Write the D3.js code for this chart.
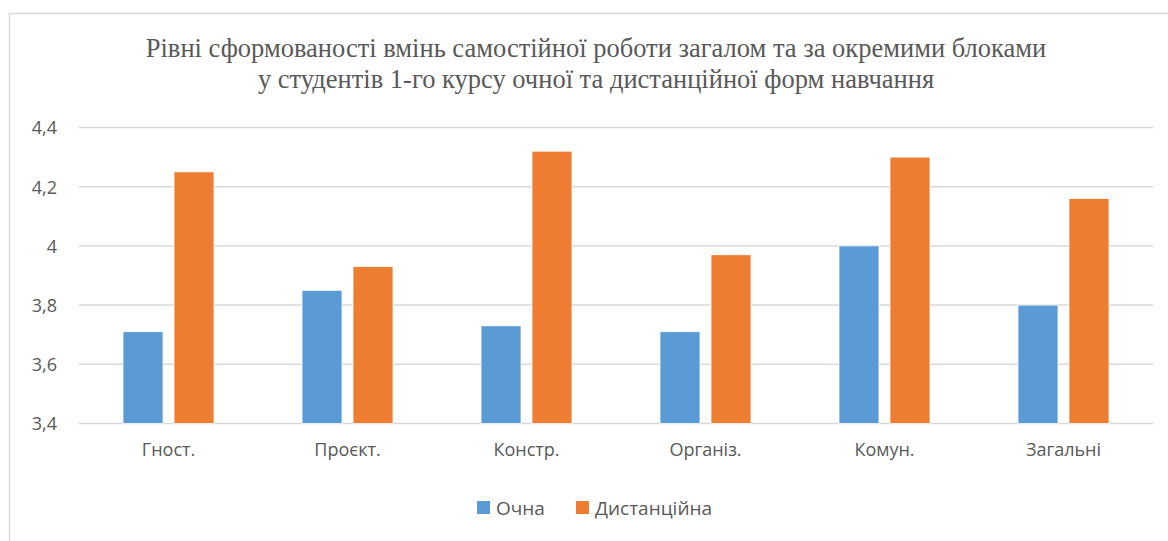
<!DOCTYPE html>
<html lang="uk">

<head>
    <meta charset="utf-8">
    <script src='https://d3js.org/d3.v7.min.js'></script>
</head>

<body style="margin:0; background:#fff;">

    <style>
        svg text {
            fill: #595959;
            font-family: "Open Sans", "Noto Sans", sans-serif;
        }
        svg .title {
            font-family: "Liberation Serif", "DejaVu Serif", serif;
            font-size: 26.5px;
        }
    </style>
    <script>

        // values
        const categories = ["Гност.", "Проєкт.", "Констр.", "Організ.", "Комун.", "Загальні"];
        const seriesNames = ["Очна", "Дистанційна"];
        const ochna = [3.71, 3.85, 3.73, 3.71, 4.0, 3.8];
        const dystantsiina = [4.25, 3.93, 4.32, 3.97, 4.3, 4.16];
        const yTicks = [3.4, 3.6, 3.8, 4.0, 4.2, 4.4];
        const titleLines = [
            "Рівні сформованості вмінь самостійної роботи загалом та за окремими блоками",
            "у студентів 1-го курсу очної та дистанційної форм навчання"
        ];
        const colors = ["#5B9BD5", "#ED7D31"];

        var width = 1168, height = 541;
        var plot = { left: 79, right: 1153, top: 127.5, bottom: 423.5 };

        var svg = d3.select("body")
            .append("svg")
            .attr("width", width)
            .attr("height", height);

        // chart frame
        svg.append("rect")
            .attr("x", 9.5)
            .attr("y", 13.5)
            .attr("width", 1174)
            .attr("height", 600)
            .attr("fill", "none")
            .attr("stroke", "#d9d9d9")
            .attr("stroke-width", 1.5);

        svg.selectAll("text.title")
            .data(titleLines)
            .enter()
            .append("text")
            .attr("class", "title")
            .attr("x", 596)
            .attr("y", function(d, i) { return 57 + i * 31; })
            .attr("text-anchor", "middle")
            .text(function(d) { return d; });

        var y = d3.scaleLinear()
            .domain([3.4, 4.4])
            .range([plot.bottom, plot.top]);

        var x0 = d3.scaleBand()
            .domain(categories)
            .range([plot.left, plot.right])
            .padding(0);

        var x1 = d3.scaleBand()
            .domain(seriesNames)
            .range([0, x0.bandwidth()])
            .paddingInner(0.216)
            .paddingOuter(0.863);

        // gridlines
        svg.append("g")
            .selectAll("line")
            .data(yTicks)
            .enter()
            .append("line")
            .attr("x1", plot.left)
            .attr("x2", plot.right)
            .attr("y1", function(d) { return y(d); })
            .attr("y2", function(d) { return y(d); })
            .attr("stroke", "#d9d9d9")
            .attr("stroke-width", 1.5);

        // y axis labels
        var yAxis = d3.axisLeft(y)
            .tickValues(yTicks)
            .tickSize(0)
            .tickPadding(0)
            .tickFormat(function(d) { return d3.format("")(+d.toFixed(1)).replace(".", ","); });

        var ya = svg.append("g")
            .attr("transform", "translate(57,0)")
            .call(yAxis);
        ya.select(".domain").remove();
        ya.selectAll("text")
            .attr("font-size", 18)
            .attr("font-family", null)
            .attr("dy", "0.36em");

        // bars
        var groups = svg.selectAll("g.cat")
            .data(categories)
            .enter()
            .append("g")
            .attr("class", "cat")
            .attr("transform", function(d) { return "translate(" + x0(d) + ",0)"; });

        groups.selectAll("rect")
            .data(function(d, i) {
                return [
                    { s: seriesNames[0], v: ochna[i], c: colors[0] },
                    { s: seriesNames[1], v: dystantsiina[i], c: colors[1] }
                ];
            })
            .enter()
            .append("rect")
            .attr("x", function(d) { return x1(d.s); })
            .attr("width", x1.bandwidth())
            .attr("y", function(d) { return y(d.v); })
            .attr("height", function(d) { return y(3.4) - y(d.v); })
            .attr("fill", function(d) { return d.c; })
            .attr("stroke", "#fff")
            .attr("stroke-width", 0.75);

        // category labels
        var xAxis = d3.axisBottom(x0)
            .tickSize(0)
            .tickPadding(0);
        var xa = svg.append("g")
            .attr("transform", "translate(0," + (plot.bottom + 26) + ")")
            .call(xAxis);
        xa.select(".domain").remove();
        xa.selectAll("text")
            .attr("font-size", 18)
            .attr("font-family", null)
            .attr("dy", "0.36em");

        // legend
        var legendX = [477, 576];
        var legend = svg.selectAll("g.legend")
            .data(seriesNames)
            .enter()
            .append("g")
            .attr("class", "legend")
            .attr("transform", function(d, i) { return "translate(" + legendX[i] + ",501)"; });
        legend.append("rect")
            .attr("width", 13)
            .attr("height", 13)
            .attr("fill", function(d, i) { return colors[i]; });
        legend.append("text")
            .attr("x", 19)
            .attr("y", 7)
            .attr("dy", "0.36em")
            .attr("font-size", 19)
            .text(function(d) { return d; });

    </script>

</body>

</html>
